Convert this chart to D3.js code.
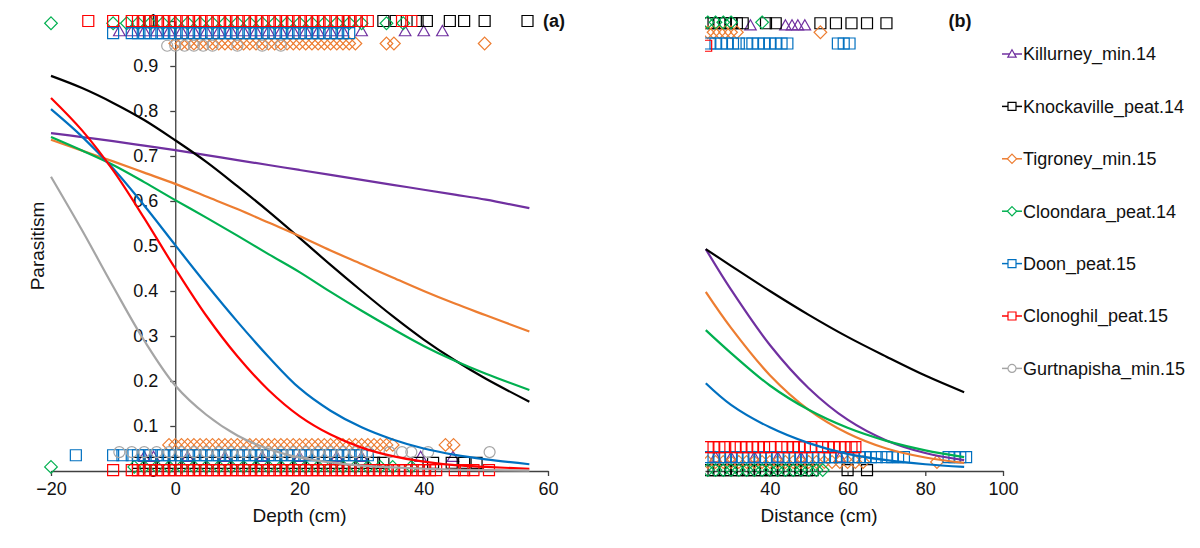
<!DOCTYPE html>
<html>
<head>
<meta charset="utf-8">
<script src="https://cdn.jsdelivr.net/npm/d3@7"></script>
<style>
  body { margin: 0; background: #fff; }
  svg { display: block; font-family: "Liberation Sans", Arial, sans-serif; }
</style>
</head>
<body>
<div id="chart"></div>
<script>
// site names, in legend order
const sites = ["Killurney_min.14", "Knockaville_peat.14", "Tigroney_min.15", "Cloondara_peat.14",
  "Doon_peat.15", "Clonoghil_peat.15", "Gurtnapisha_min.15"];

// axis ticks
const depthTicks = [-20, 0, 20, 40, 60];
const distTicks = [40, 60, 80, 100];
const parTicks = [0, 0.1, 0.2, 0.3, 0.4, 0.5, 0.6, 0.7, 0.8, 0.9, 1];

// fitted curves (a): parasitism against depth
const depthGrid = [-20, -15, -10, -5, 0, 5, 10, 15, 20, 25, 30, 35, 40, 45, 50, 57];
const fitA_Killurney = [0.751, 0.742, 0.733, 0.723, 0.713, 0.702, 0.691, 0.680, 0.669, 0.658, 0.647, 0.636, 0.625, 0.614, 0.603, 0.584];
const fitA_Knockaville = [0.878, 0.851, 0.818, 0.780, 0.735, 0.687, 0.633, 0.577, 0.518, 0.458, 0.400, 0.344, 0.292, 0.246, 0.205, 0.154];
const fitA_Tigroney = [0.736, 0.712, 0.688, 0.663, 0.638, 0.610, 0.582, 0.552, 0.522, 0.490, 0.460, 0.430, 0.400, 0.372, 0.346, 0.310];
const fitA_Cloondara = [0.742, 0.712, 0.680, 0.642, 0.602, 0.563, 0.523, 0.482, 0.442, 0.398, 0.356, 0.316, 0.278, 0.245, 0.216, 0.180];
const fitA_Doon = [0.804, 0.743, 0.672, 0.590, 0.502, 0.415, 0.332, 0.254, 0.184, 0.134, 0.097, 0.070, 0.050, 0.036, 0.026, 0.015];
const fitA_Clonoghil = [0.829, 0.757, 0.668, 0.562, 0.450, 0.345, 0.255, 0.180, 0.122, 0.081, 0.052, 0.033, 0.021, 0.013, 0.009, 0.005];
const fitA_Gurtnapisha = [0.654, 0.535, 0.410, 0.290, 0.190, 0.125, 0.079, 0.049, 0.030, 0.019, 0.012, 0.008, 0.005, 0.003, 0.002, 0.001];

// fitted curves (b): parasitism against distance
const distGrid = [23.5, 30, 40, 50, 60, 70, 80, 90];
const fitB_Killurney = [0.493, 0.403, 0.280, 0.184, 0.114, 0.068, 0.040, 0.024];
const fitB_Knockaville = [0.493, 0.456, 0.400, 0.347, 0.298, 0.254, 0.212, 0.175];
const fitB_Tigroney = [0.398, 0.318, 0.213, 0.136, 0.084, 0.050, 0.030, 0.018];
const fitB_Cloondara = [0.313, 0.262, 0.190, 0.136, 0.096, 0.067, 0.046, 0.031];
const fitB_Doon = [0.195, 0.147, 0.097, 0.062, 0.038, 0.024, 0.015, 0.009];

// observations (a): depths of parasitised (top) and unparasitised (bottom) samples
const topA_Killurney = [-9, -7, -5, -3, -1, 1, 3, 5, 7, 9, 11, 13, 15, 17, 19, 21, 23, 25, 27, 30, 37, 40, 43];
const topA_Knockaville = [-4, 28, 33.5, 35.5, 39, 40.5, 44.2, 46.5, 49.8, 56.7];
const topA_Tigroney = [0, 1, 2, 3, 4, 5, 6, 7, 8, 9, 10, 11, 12, 13, 14, 15, 16, 17, 18, 19, 20, 21, 22, 23, 24, 25, 26, 27, 28, 29, 34, 35.2, 49.8];
const topA_Cloondara = [-20, -10, -7.8, -6, -4, -2, 0, 2, 4, 6, 8, 10, 12, 14, 16, 18, 20, 22, 24, 26, 28, 30, 34, 36.7];
const topA_Doon = [-10, -7, -6, -5, -4, -3, -2, -1, 0, 1, 2, 3, 4, 5, 6, 7, 8, 9, 10, 11, 12, 13, 14, 15, 16, 17, 18, 19, 20, 21, 22, 23, 24, 25, 26, 27, 28];
const topA_Clonoghil = [-14, -10, -7, -6, -5, -4, -3, -2, -1, 0, 1, 2, 3, 4, 5, 6, 7, 8, 9, 10, 11, 12, 13, 14, 15, 16, 17, 18, 19, 20, 21, 22, 23, 24, 25, 26, 27, 28, 29, 30, 31, 36.5, 38];
const topA_Gurtnapisha = [-1.3, 0, 1.5, 3, 4.5, 6, 10, 14, 17];

const botA_Killurney = [-5, -3.5, 2, 8, 14, 20, 26, 30, 39.5, 44.7];
const botA_Knockaville = [-6, -4, -2, 0, 2, 4, 6, 8, 10, 12, 14, 16, 18, 20, 22, 24, 26, 28, 30, 32, 33.5, 39, 41.5, 44.5, 46.5, 48.5];
const botA_Tigroney = [-1, 0, 1, 2, 3, 4, 5, 6, 7, 8, 9, 10, 11, 12, 13, 14, 15, 16, 17, 18, 19, 20, 21, 22, 23, 24, 25, 26, 27, 28, 29, 30, 31, 32, 33, 34, 35, 43.5, 44.8];
const botA_Cloondara = [-20, -6.6, -5, -3, -1, 1, 3, 5, 7, 9, 11, 13, 15, 17, 19, 21, 23, 25, 27, 29, 31, 33, 35, 38];
const botA_Doon = [-16, -10, -8.5, -7, -6, -5, -4, -3, -2, -1, 0, 1, 2, 3, 4, 5, 6, 7, 8, 9, 10, 11, 12, 13, 14, 15, 16, 17, 18, 19, 20, 21, 22, 23, 24, 25, 26, 27, 28, 29, 30, 31];
const botA_Clonoghil = [-10, -7, -6, -5, -4, -3, -2, -1, 0, 1, 2, 3, 4, 5, 6, 7, 8, 9, 10, 11, 12, 13, 14, 15, 16, 17, 18, 19, 20, 21, 22, 23, 24, 25, 26, 27, 28, 29, 30, 31, 32, 33, 34, 35, 36, 37, 38, 39, 40, 41, 42, 45, 46.5, 48, 50.5];
const botA_Gurtnapisha = [-9, -7, -5, -3, -1, 1, 3, 5, 7, 9, 11, 13, 15, 17, 19, 21, 23, 25, 27, 29, 31, 34.5, 36.5, 38, 40.7, 50.6];

// observations (b): distances
const topB_Killurney = [35, 44, 45.7, 47.2, 49];
const topB_Knockaville = [24, 25.5, 27, 28.5, 30, 31.5, 33, 39, 41.5, 53, 57, 61, 65, 70];
const topB_Tigroney = [24, 25.5, 27, 28.5, 30, 31.5, 53];
const topB_Cloondara = [24, 26, 28, 30, 38];
const topB_Doon = [24.5, 26, 27.5, 29, 30.5, 32, 34, 35.5, 37, 38.5, 40, 41.5, 43, 44.5, 57.5, 59, 60.5];
const topB_Clonoghil = [23.6];

const botB_Killurney = [26, 30, 36, 42, 48, 58];
const botB_Knockaville = [24, 25.5, 27, 28.5, 30, 31.5, 33, 34.5, 36, 37.5, 39, 40.5, 42, 43.5, 45, 46.5, 48, 49.5, 51, 60, 65];
const botB_Tigroney = [24, 26, 28, 30, 32, 34, 36, 38, 40, 42, 44, 46, 48, 50, 52, 54, 56, 58, 60, 62, 64, 83];
const botB_Cloondara = [24, 26, 28, 30, 32, 34, 36, 38, 40, 42, 44, 46, 48, 50, 52, 53.6];
const botB_Doon = [24, 25.5, 27, 28.5, 30, 31.5, 33, 34.5, 36, 37.5, 39, 40.5, 42, 43.5, 45, 46.5, 48, 49.5, 51, 52.5, 54, 55.5, 57, 58.5, 60, 61.5, 63, 64.5, 66, 67.5, 70, 71.5, 73, 74.5, 86, 87.5, 89, 90.5];
const botB_Clonoghil = [24, 25.5, 27, 28.5, 31, 32.5, 34, 35.5, 37, 38.5, 40, 43, 44.5, 46, 47.5, 49, 50.5, 53.5, 55, 56.5, 58, 59.5, 61, 62];

// plotted (offset) parasitism level of each site's 1s and 0s
const topLevelA = [0.977, 1.0, 0.95, 0.995, 0.973, 1.0, 0.945];
const botLevelA = [0.031, 0.018, 0.058, 0.009, 0.035, 0.002, 0.042];
const topLevelB = [0.99, 0.995, 0.975, 0.997, 0.95, 0.945, null];
const botLevelB = [0.03, 0.002, 0.02, 0.002, 0.031, 0.053, null];

// styles
const siteColor = ["#7030A0", "#000000", "#ED7D31", "#00B050", "#0070C0", "#FF0000", "#A5A5A5"];
const siteShape = ["triangle", "square", "diamond", "diamond", "square", "square", "circle"];

const fitsA = [fitA_Killurney, fitA_Knockaville, fitA_Tigroney, fitA_Cloondara, fitA_Doon, fitA_Clonoghil, fitA_Gurtnapisha];
const fitsB = [fitB_Killurney, fitB_Knockaville, fitB_Tigroney, fitB_Cloondara, fitB_Doon, null, null];
const topsA = [topA_Killurney, topA_Knockaville, topA_Tigroney, topA_Cloondara, topA_Doon, topA_Clonoghil, topA_Gurtnapisha];
const botsA = [botA_Killurney, botA_Knockaville, botA_Tigroney, botA_Cloondara, botA_Doon, botA_Clonoghil, botA_Gurtnapisha];
const topsB = [topB_Killurney, topB_Knockaville, topB_Tigroney, topB_Cloondara, topB_Doon, topB_Clonoghil, []];
const botsB = [botB_Killurney, botB_Knockaville, botB_Tigroney, botB_Cloondara, botB_Doon, botB_Clonoghil, []];

const w = 1200, h = 548;
const svg = d3.select("#chart").append("svg")
  .attr("width", w).attr("height", h)
  .attr("viewBox", [0, 0, w, h]);

const y = d3.scaleLinear().domain([0, 1]).range([471, 21]);
const xA = d3.scaleLinear().domain([-20, 60]).range([51, 548]);
const xB = d3.scaleLinear().domain([23.3, 100]).range([705, 1003]);

// marker path, centred at 0,0
function shapePath(shape, r) {
  if (shape === "square") return `M${-r},${-r}h${2 * r}v${2 * r}h${-2 * r}Z`;
  if (shape === "diamond") { const q = r * 1.15; return `M0,${-q}L${q},0L0,${q}L${-q},0Z`; }
  if (shape === "triangle") return `M0,${-r * 1.05}L${r * 1.05},${r * 0.8}L${-r * 1.05},${r * 0.8}Z`;
  const p = d3.path(); p.arc(0, 0, r, 0, 2 * Math.PI); p.closePath(); return p.toString();
}

const axisColor = "#404040";
function styleAxis(g) {
  g.selectAll("path, line").attr("stroke", axisColor).attr("stroke-width", 1.3);
  g.selectAll("text").attr("fill", "#111").attr("font-size", 18)
    .attr("font-family", "'Liberation Sans', Arial, sans-serif");
}

// ---------- panel (a) ----------
const gA = svg.append("g");

gA.append("g")
  .attr("transform", `translate(0,${y(0)})`)
  .call(d3.axisBottom(xA).tickValues(depthTicks).tickSize(5).tickSizeOuter(0).tickPadding(6))
  .call(styleAxis);

gA.append("g")
  .attr("transform", `translate(${xA(0)},0)`)
  .call(d3.axisLeft(y).tickValues(parTicks).tickFormat(d3.format("~g")).tickSize(5).tickSizeOuter(0).tickPadding(12))
  .call(styleAxis);

const line = (xs, xScale) => d3.line()
  .x((d, i) => xScale(xs[i]))
  .y((d) => y(d))
  .curve(d3.curveCatmullRom.alpha(0.5));

sites.forEach((s, i) => {
  const pts = topsA[i].map((d) => [d, topLevelA[i]]).concat(botsA[i].map((d) => [d, botLevelA[i]]));
  gA.append("g").selectAll("path")
    .data(pts)
    .join("path")
    .attr("d", shapePath(siteShape[i], 5.5))
    .attr("transform", (d) => `translate(${xA(d[0])},${y(d[1])})`)
    .attr("fill", "none")
    .attr("stroke", siteColor[i])
    .attr("stroke-width", 1.2);
});

sites.forEach((s, i) => {
  gA.append("path")
    .datum(fitsA[i])
    .attr("d", line(depthGrid, xA))
    .attr("fill", "none")
    .attr("stroke", siteColor[i])
    .attr("stroke-width", 2.2);
});

gA.append("text")
  .attr("x", xA(20)).attr("y", 522)
  .attr("text-anchor", "middle")
  .attr("font-size", 19).attr("fill", "#111")
  .text("Depth (cm)");

gA.append("text")
  .attr("transform", `translate(44,${y(0.5)})rotate(-90)`)
  .attr("text-anchor", "middle")
  .attr("font-size", 19).attr("fill", "#111")
  .text("Parasitism");

gA.append("text")
  .attr("x", 554).attr("y", 27)
  .attr("text-anchor", "middle")
  .attr("font-size", 18).attr("font-weight", "bold").attr("fill", "#111")
  .text("(a)");

// ---------- panel (b) ----------
svg.append("clipPath").attr("id", "clipB")
  .append("rect").attr("x", 705).attr("y", 0).attr("width", 305).attr("height", 548);

const gB = svg.append("g");

gB.append("g")
  .attr("transform", `translate(0,${y(0)})`)
  .call(d3.axisBottom(xB).tickValues(distTicks).tickSize(5).tickSizeOuter(0).tickPadding(6))
  .call(styleAxis);

const gBc = gB.append("g").attr("clip-path", "url(#clipB)");

sites.forEach((s, i) => {
  if (topLevelB[i] === null) return;
  const pts = topsB[i].map((d) => [d, topLevelB[i]]).concat(botsB[i].map((d) => [d, botLevelB[i]]));
  gBc.append("g").selectAll("path")
    .data(pts)
    .join("path")
    .attr("d", shapePath(siteShape[i], 5.5))
    .attr("transform", (d) => `translate(${xB(d[0])},${y(d[1])})`)
    .attr("fill", "none")
    .attr("stroke", siteColor[i])
    .attr("stroke-width", 1.2);
});

sites.forEach((s, i) => {
  if (!fitsB[i]) return;
  gBc.append("path")
    .datum(fitsB[i])
    .attr("d", line(distGrid, xB))
    .attr("fill", "none")
    .attr("stroke", siteColor[i])
    .attr("stroke-width", 2.2);
});

gB.append("text")
  .attr("x", 819).attr("y", 522)
  .attr("text-anchor", "middle")
  .attr("font-size", 19).attr("fill", "#111")
  .text("Distance (cm)");

gB.append("text")
  .attr("x", 960).attr("y", 27)
  .attr("text-anchor", "middle")
  .attr("font-size", 18).attr("font-weight", "bold").attr("fill", "#111")
  .text("(b)");

// ---------- legend ----------
const legend = svg.append("g")
  .selectAll("g")
  .data(sites)
  .join("g")
  .attr("transform", (d, i) => `translate(1002,${54 + i * 52.4})`);

legend.append("line")
  .attr("x1", 0).attr("x2", 20)
  .attr("stroke", (d, i) => siteColor[i]).attr("stroke-width", 1.5);

legend.append("path")
  .attr("d", (d, i) => shapePath(siteShape[i], 4))
  .attr("transform", "translate(10,0)")
  .attr("fill", "white")
  .attr("stroke", (d, i) => siteColor[i])
  .attr("stroke-width", 1.2);

legend.append("text")
  .attr("x", 21).attr("dy", "0.35em")
  .attr("font-size", 18).attr("fill", "#111")
  .text((d) => d);
</script>
</body>
</html>
